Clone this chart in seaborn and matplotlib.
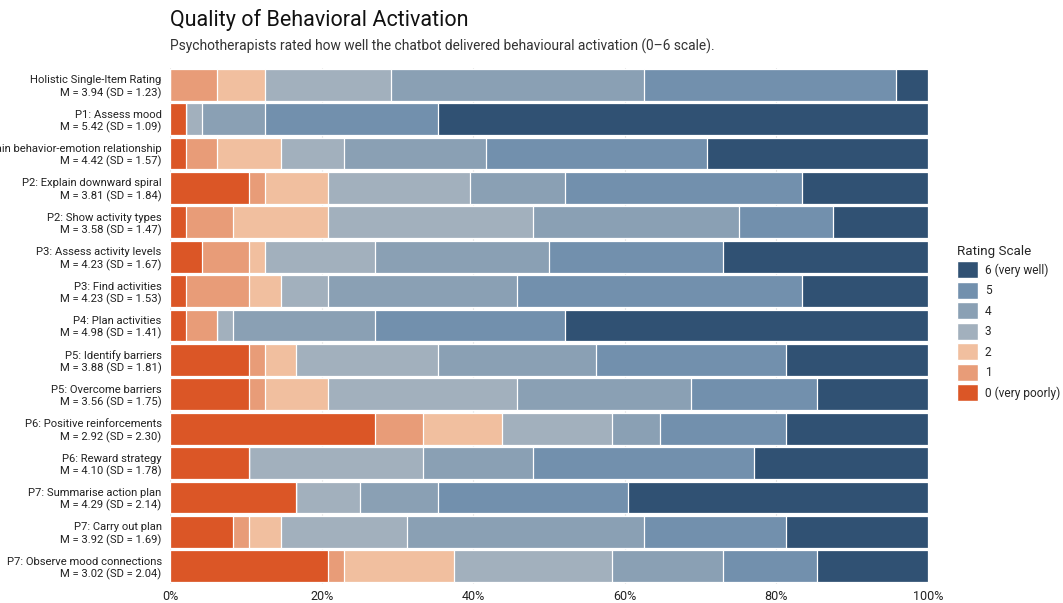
import numpy as np
import pandas as pd
import matplotlib
matplotlib.use("Agg")
import matplotlib.pyplot as plt
from matplotlib.patches import Patch
import seaborn as sns

items = [
    "Holistic Single-Item Rating\nM = 3.94 (SD = 1.23)",
    "P1: Assess mood\nM = 5.42 (SD = 1.09)",
    "P1: Explain behavior-emotion relationship\nM = 4.42 (SD = 1.57)",
    "P2: Explain downward spiral\nM = 3.81 (SD = 1.84)",
    "P2: Show activity types\nM = 3.58 (SD = 1.47)",
    "P3: Assess activity levels\nM = 4.23 (SD = 1.67)",
    "P3: Find activities\nM = 4.23 (SD = 1.53)",
    "P4: Plan activities\nM = 4.98 (SD = 1.41)",
    "P5: Identify barriers\nM = 3.88 (SD = 1.81)",
    "P5: Overcome barriers\nM = 3.56 (SD = 1.75)",
    "P6: Positive reinforcements\nM = 2.92 (SD = 2.30)",
    "P6: Reward strategy\nM = 4.10 (SD = 1.78)",
    "P7: Summarise action plan\nM = 4.29 (SD = 2.14)",
    "P7: Carry out plan\nM = 3.92 (SD = 1.69)",
    "P7: Observe mood connections\nM = 3.02 (SD = 2.04)",
]

# counts of ratings per item (n = 48)
r0 = [0, 1, 1, 5, 1, 2, 1, 1, 5, 5, 13, 5, 8, 4, 10]
r1 = [3, 0, 2, 1, 3, 3, 4, 2, 1, 1, 3, 0, 0, 1, 1]
r2 = [3, 0, 4, 4, 6, 1, 2, 0, 2, 4, 5, 0, 0, 2, 7]
r3 = [8, 1, 4, 9, 13, 7, 3, 1, 9, 12, 7, 11, 4, 8, 10]
r4 = [16, 4, 9, 6, 13, 11, 12, 9, 10, 11, 3, 7, 5, 15, 7]
r5 = [16, 11, 14, 15, 6, 11, 18, 12, 12, 8, 8, 14, 12, 9, 6]
r6 = [2, 31, 14, 8, 6, 13, 8, 23, 9, 7, 9, 11, 19, 9, 7]

levels = ["0 (very poorly)", "1", "2", "3", "4", "5", "6 (very well)"]
colors = ["#DB5626", "#E89C78", "#F1BF9F", "#A2B0BD", "#8AA0B4", "#7290AD", "#305173"]
xticks = [0, 20, 40, 60, 80, 100]
xticklabels = ["0%", "20%", "40%", "60%", "80%", "100%"]

counts = np.array([r0, r1, r2, r3, r4, r5, r6], dtype=float)
pct = counts / counts.sum(axis=0) * 100
cum = np.cumsum(pct, axis=0)

sns.set_theme(style="white")
plt.rcParams["font.family"] = ["Roboto", "DejaVu Sans"]

fig = plt.figure(figsize=(10.63, 6.03), dpi=100)
ax = fig.add_axes([170 / 1063, 1 - 583.5 / 603, (928 - 170) / 1063, 516 / 603])

for i in range(6, -1, -1):
    df = pd.DataFrame({"item": items, "value": cum[i]})
    sns.barplot(data=df, x="value", y="item", color=colors[i], order=items,
                width=0.93, edgecolor="white", linewidth=0.9, saturation=1,
                ax=ax, zorder=2)

ax.set_xlim(0, 100)
ax.set_ylim(14.5, -0.5)
ax.set_xticks(xticks)
ax.set_xticklabels(xticklabels, fontsize=9, color="#222222")
ax.tick_params(axis="y", labelsize=8.1, colors="#222222", pad=6, length=0)
ax.tick_params(axis="x", length=0, pad=5)
ax.set_xlabel("")
ax.set_ylabel("")
for s in ax.spines.values():
    s.set_visible(False)
ax.xaxis.grid(True, color="#E3E3E3", linewidth=0.8, zorder=0)
ax.set_axisbelow(True)

fig.text(170 / 1063, 1 - 20 / 603, "Quality of Behavioral Activation",
         fontsize=15.5, va="center", ha="left", color="#111111")
fig.text(170 / 1063, 1 - 46 / 603,
         "Psychotherapists rated how well the chatbot delivered behavioural activation (0\u20136 scale).",
         fontsize=9.9, va="center", ha="left", color="#333333")

handles = [Patch(facecolor=colors[i], edgecolor="white", label=levels[i]) for i in range(6, -1, -1)]
leg = fig.legend(handles=handles, title="Rating Scale", loc="upper left",
                 bbox_to_anchor=(952 / 1063, 1 - 240 / 603), frameon=False,
                 fontsize=8.6, title_fontsize=9.6, handlelength=1.8, handleheight=1.8,
                 labelspacing=0.3, handletextpad=0.55, borderaxespad=0)
leg._legend_box.align = "left"

fig.savefig("out.png", dpi=100)
